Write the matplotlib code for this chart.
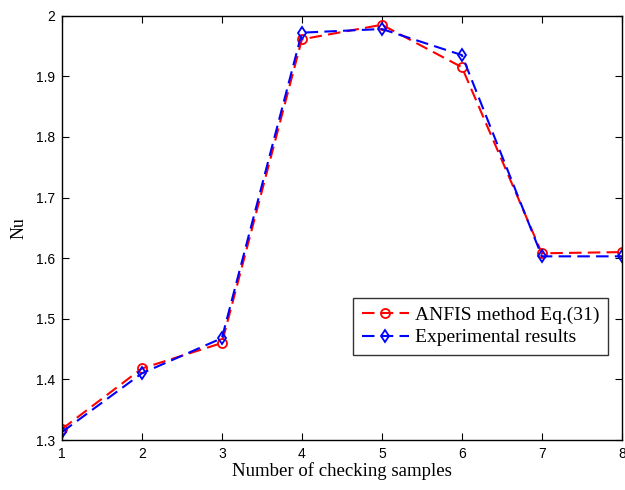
import matplotlib.pyplot as plt

plt.rcParams['font.family'] = ['Liberation Serif', 'DejaVu Serif']

samples = [1, 2, 3, 4, 5, 6, 7, 8]
nu_anfis = [1.318, 1.418, 1.460, 1.961, 1.985, 1.915, 1.608, 1.610]
nu_exp = [1.313, 1.410, 1.468, 1.972, 1.978, 1.935, 1.603, 1.603]

fig = plt.figure(figsize=(6.25, 4.9), dpi=100)
ax = fig.add_axes([0.099, 0.102, 0.896, 0.866])

ax.plot(samples, nu_anfis, color='red', linestyle='--', linewidth=1.5,
        marker='o', markersize=6.5, markerfacecolor='none', markeredgewidth=1.3,
        dashes=(6, 3), label='ANFIS method Eq.(31)')
ax.plot(samples, nu_exp, color='blue', linestyle='--', linewidth=1.5,
        marker='d', markersize=6.5, markerfacecolor='none', markeredgewidth=1.3,
        dashes=(6, 3), label='Experimental results')

ax.set_xlim(1, 8)
ax.set_ylim(1.3, 2.0)
ax.set_xticks(samples)
ax.set_yticks([1.3, 1.4, 1.5, 1.6, 1.7, 1.8, 1.9, 2.0])
ax.set_yticklabels(['1.3', '1.4', '1.5', '1.6', '1.7', '1.8', '1.9', '2'])
ax.tick_params(direction='in', top=True, right=True, length=5, pad=5)
for lbl in ax.get_xticklabels() + ax.get_yticklabels():
    lbl.set_family('Liberation Sans')
    lbl.set_fontsize(10)
for s in ax.spines.values():
    s.set_linewidth(1.0)

ax.set_xlabel('Number of checking samples', fontsize=13.5, labelpad=1)
ax.set_ylabel('Nu', fontsize=13, labelpad=6)

leg = ax.legend(loc='lower right', bbox_to_anchor=(0.975, 0.20), fontsize=14,
                frameon=True, fancybox=False, edgecolor='black',
                handlelength=2.4, handletextpad=0.3, borderpad=0.45,
                labelspacing=0.25, borderaxespad=0)
leg.get_frame().set_linewidth(1.0)

fig.savefig('out.png', dpi=100)
